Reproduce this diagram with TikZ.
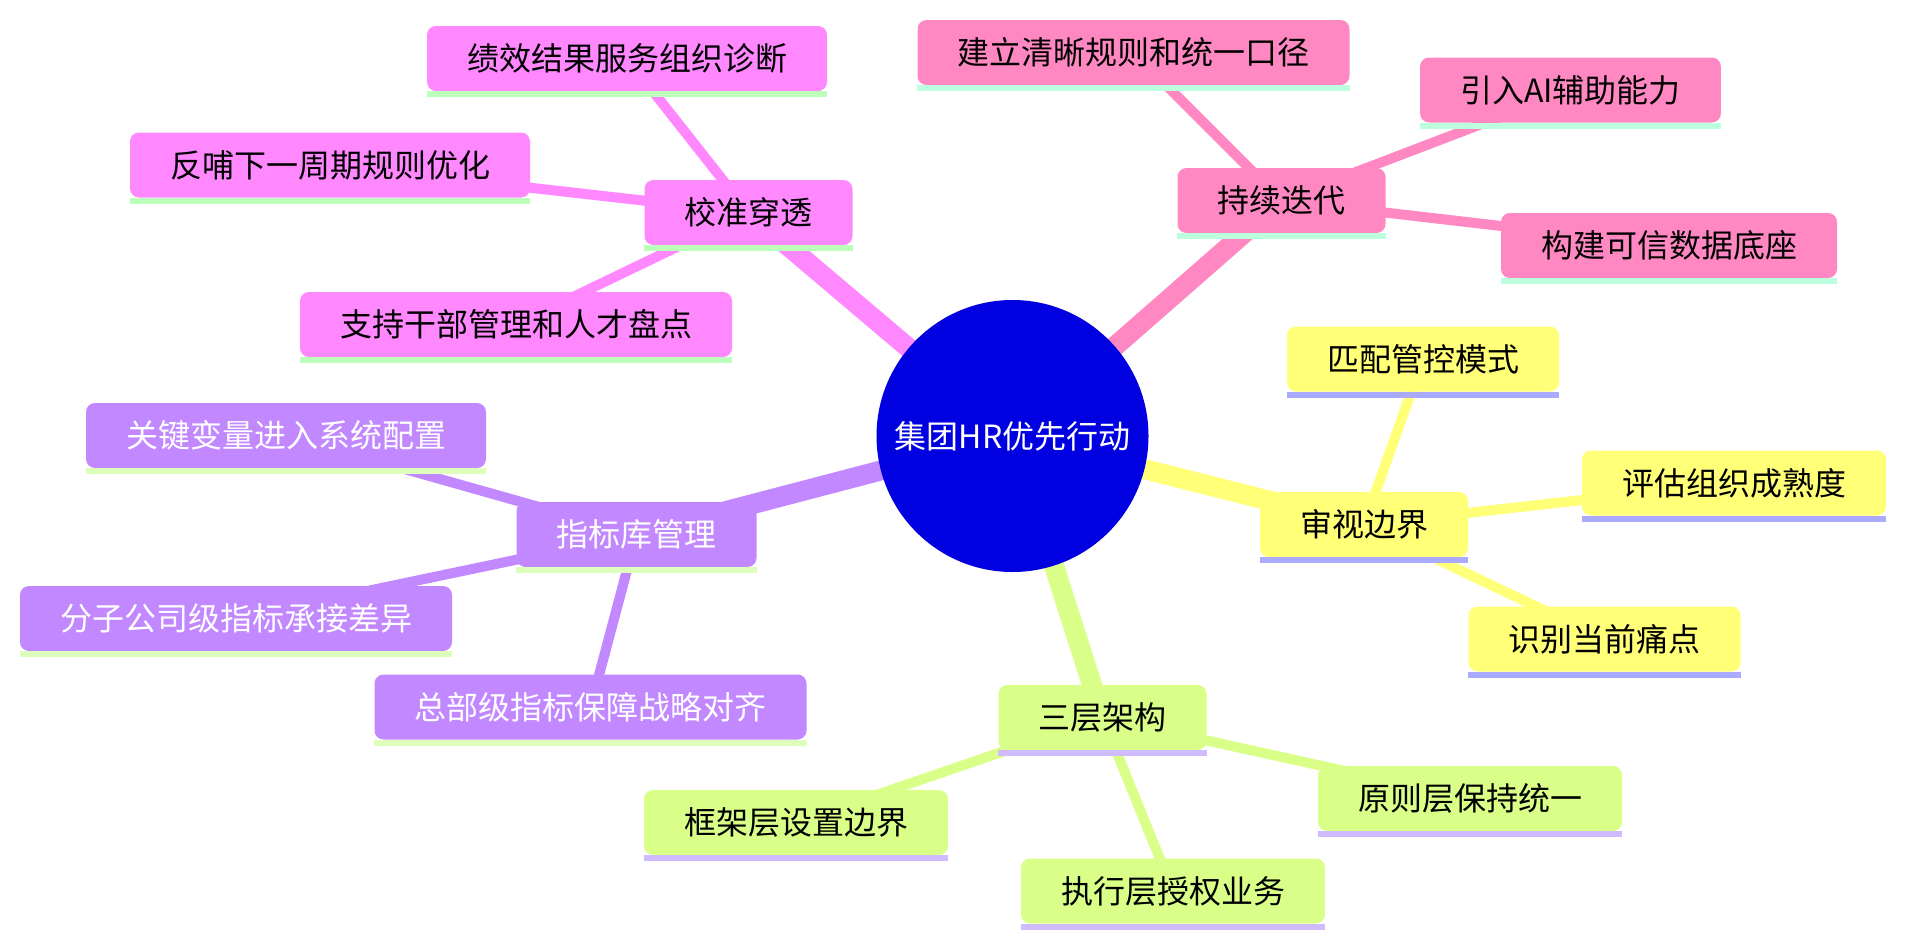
\documentclass[tikz,border=0pt]{standalone}
\usepackage{fontspec}
\newfontfamily\cjk{Noto Sans CJK SC}
\usetikzlibrary{backgrounds}
\definecolor{cblue}{HTML}{0000E0}
\definecolor{cmag}{HTML}{FF88FF}
\definecolor{cmagul}{HTML}{BBFFBB}
\definecolor{cpink}{HTML}{FF88C2}
\definecolor{cpinkul}{HTML}{BBFFDD}
\definecolor{cyel}{HTML}{FFFF78}
\definecolor{cyelul}{HTML}{AAAAFF}
\definecolor{clime}{HTML}{D9FF88}
\definecolor{climeul}{HTML}{D0BBFF}
\definecolor{cpur}{HTML}{C288FF}
\definecolor{cpurul}{HTML}{DDFFBB}
\begin{document}
\begin{tikzpicture}[x=1pt,y=-1pt,
  box/.style={rounded corners=9pt, minimum height=65pt, inner xsep=40pt, inner ysep=0pt,
    text height=28pt, text depth=4pt, font=\cjk\fontsize{32}{38}\selectfont, anchor=center},
  magbox/.style={box, fill=cmag, text=black},
  pinkbox/.style={box, fill=cpink, text=black},
  yelbox/.style={box, fill=cyel, text=black},
  limebox/.style={box, fill=clime, text=black},
  purbox/.style={box, fill=cpur, text=white},
  mainedge/.style={line width=20pt},
  subedge/.style={line width=10pt},
]
\useasboundingbox (0,0) rectangle (1905,943);

% central node
\node[circle, fill=cblue, minimum size=272pt, inner sep=0pt, text=white,
  font=\cjk\fontsize{32}{38}\selectfont] (c) at (1012.5,436) {集团HR优先行动};

% magenta group
\node[magbox] (m0) at (748.5,212.5) {校准穿透};
\node[magbox] (m1) at (627,58.5) {绩效结果服务组织诊断};
\node[magbox] (m2) at (330,165) {反哺下一周期规则优化};
\node[magbox] (m3) at (516,324.5) {支持干部管理和人才盘点};

% pink group
\node[pinkbox] (p0) at (1281.5,200.5) {持续迭代};
\node[pinkbox] (p1) at (1133.5,52.5) {建立清晰规则和统一口径};
\node[pinkbox] (p2) at (1570.5,90) {引入AI辅助能力};
\node[pinkbox] (p3) at (1669,245.5) {构建可信数据底座};

% yellow group
\node[yelbox] (y0) at (1364,524.5) {审视边界};
\node[yelbox] (y1) at (1423,359) {匹配管控模式};
\node[yelbox] (y2) at (1734,483) {评估组织成熟度};
\node[yelbox] (y3) at (1604.5,639) {识别当前痛点};

% lime group
\node[limebox] (l0) at (1102.5,717.5) {三层架构};
\node[limebox] (l1) at (796,822.5) {框架层设置边界};
\node[limebox] (l2) at (1470,798.5) {原则层保持统一};
\node[limebox] (l3) at (1173,891) {执行层授权业务};

% purple group
\node[purbox] (u0) at (636.5,534.5) {指标库管理};
\node[purbox] (u1) at (286,435.5) {关键变量进入系统配置};
\node[purbox] (u2) at (236,618.5) {分子公司级指标承接差异};
\node[purbox] (u3) at (590.5,707) {总部级指标保障战略对齐};

% underlines
\foreach \n in {m0,m1,m2,m3}{\fill[cmagul] (\n.south west) rectangle ([yshift=-6pt]\n.south east);}
\foreach \n in {p0,p1,p2,p3}{\fill[cpinkul] (\n.south west) rectangle ([yshift=-6pt]\n.south east);}
\foreach \n in {y0,y1,y2,y3}{\fill[cyelul] (\n.south west) rectangle ([yshift=-6pt]\n.south east);}
\foreach \n in {l0,l1,l2,l3}{\fill[climeul] (\n.south west) rectangle ([yshift=-6pt]\n.south east);}
\foreach \n in {u0,u1,u2,u3}{\fill[cpurul] (\n.south west) rectangle ([yshift=-6pt]\n.south east);}

% edges
\begin{scope}[on background layer]
  \draw[mainedge, cmag] (c.center) -- (m0.center);
  \draw[mainedge, cpink] (c.center) -- (p0.center);
  \draw[mainedge, cyel] (c.center) -- (y0.center);
  \draw[mainedge, clime] (c.center) -- (l0.center);
  \draw[mainedge, cpur] (c.center) -- (u0.center);
  \foreach \n in {m1,m2,m3}{\draw[subedge, cmag] (m0.center) -- (\n.center);}
  \foreach \n in {p1,p2,p3}{\draw[subedge, cpink] (p0.center) -- (\n.center);}
  \foreach \n in {y1,y2,y3}{\draw[subedge, cyel] (y0.center) -- (\n.center);}
  \foreach \n in {l1,l2,l3}{\draw[subedge, clime] (l0.center) -- (\n.center);}
  \foreach \n in {u1,u2,u3}{\draw[subedge, cpur] (u0.center) -- (\n.center);}
\end{scope}
\end{tikzpicture}
\end{document}
